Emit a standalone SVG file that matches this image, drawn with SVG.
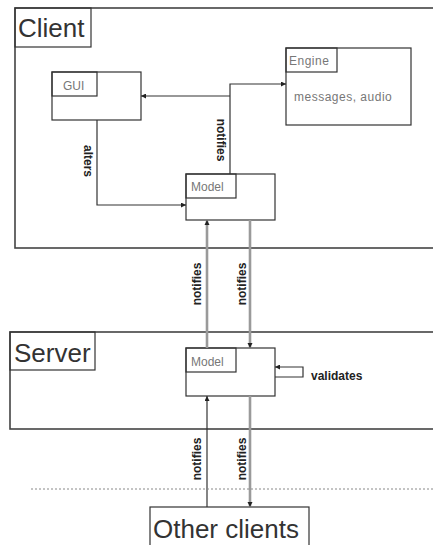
<svg xmlns="http://www.w3.org/2000/svg" width="433" height="545" viewBox="0 0 433 545">
<style>
.frame{fill:none;stroke:#444;stroke-width:1.6}
.box{fill:#fff;stroke:#333;stroke-width:1.2}
.tab{fill:none;stroke:#333;stroke-width:1.2}
.big{font-family:"Liberation Sans",Arial,sans-serif;font-size:26px;fill:#333}
.small{font-family:"Liberation Sans",Arial,sans-serif;font-size:12px;fill:#777}
.lbl{font-family:"Liberation Sans",Arial,sans-serif;font-size:12px;font-weight:bold;fill:#222}
.c{fill:none;stroke:#333;stroke-width:1.2}
.g{fill:none;stroke:#9a9a9a;stroke-width:2.6}
</style>
<defs>
<marker id="ah" viewBox="0 0 10 10" refX="10" refY="5" markerWidth="5" markerHeight="5" orient="auto" markerUnits="userSpaceOnUse">
<path d="M0,0 L10,5 L0,10 z" fill="#222"/>
</marker>
</defs>
<g id="client">
<rect class="frame" x="15" y="8" width="430" height="240"/>
<rect class="tab" x="15" y="8" width="76" height="39"/>
<text class="big" x="18" y="37">Client</text>
</g>
<g id="server">
<rect class="frame" x="10" y="332" width="435" height="97"/>
<rect class="tab" x="10" y="332" width="85" height="38"/>
<text class="big" x="14" y="362">Server</text>
</g>
<g id="engine">
<rect class="box" x="286" y="48" width="125" height="77"/>
<rect class="tab" x="286" y="48" width="51" height="24"/>
<text class="small" x="289" y="65" letter-spacing="0.5">Engine</text>
<text class="small" x="294" y="101" font-size="13" fill="#555" letter-spacing="0.5">messages, audio</text>
</g>
<g id="gui">
<rect class="box" x="52" y="72" width="89" height="48"/>
<rect class="tab" x="52" y="72" width="45" height="24"/>
<text class="small" x="63" y="90" font-size="13">GUI</text>
</g>
<g id="client-model">
<rect class="box" x="186" y="174" width="89" height="46"/>
<rect class="tab" x="186" y="174" width="50" height="24"/>
<text class="small" x="191" y="191" font-size="13">Model</text>
</g>
<g id="server-model">
<rect class="box" x="186" y="348" width="89" height="48"/>
<rect class="tab" x="186" y="348" width="50" height="24"/>
<text class="small" x="191" y="366" font-size="13">Model</text>
</g>
<g id="other-clients">
<rect class="box" x="150" y="507" width="159" height="45"/>
<text class="big" x="153" y="538">Other clients</text>
</g>
<g id="connectors">
<polyline class="c" points="97,120 97,205 186,205" marker-end="url(#ah)"/>
<polyline class="c" points="230,174 230,84 286,84" marker-end="url(#ah)"/>
<polyline class="c" points="230,96 141,96" marker-end="url(#ah)"/>
<line class="g" x1="207" y1="348" x2="207" y2="221"/>
<line class="g" x1="250" y1="220" x2="250" y2="347"/>
<path d="M207,220 l-2.5,5 h5 z" fill="#222"/>
<path d="M250,348 l-2.5,-5 h5 z" fill="#222"/>
<polyline class="c" points="275,377 303,377 303,367 275,367" marker-end="url(#ah)"/>
<polyline class="c" points="207,507 207,396" marker-end="url(#ah)"/>
<line class="g" x1="250" y1="396" x2="250" y2="506"/>
<path d="M250,507 l-2.5,-5 h5 z" fill="#222"/>
<line x1="31" y1="489" x2="433" y2="489" stroke="#888" stroke-width="1" stroke-dasharray="2,2"/>
<text class="lbl" transform="translate(88,161) rotate(90)" text-anchor="middle" dominant-baseline="central">alters</text>
<text class="lbl" transform="translate(221,140) rotate(90)" text-anchor="middle" dominant-baseline="central">notifies</text>
<text class="lbl" transform="translate(197,284) rotate(-90)" text-anchor="middle" dominant-baseline="central">notifies</text>
<text class="lbl" transform="translate(242,284) rotate(-90)" text-anchor="middle" dominant-baseline="central">notifies</text>
<text class="lbl" transform="translate(197,459) rotate(-90)" text-anchor="middle" dominant-baseline="central">notifies</text>
<text class="lbl" transform="translate(242,459) rotate(-90)" text-anchor="middle" dominant-baseline="central">notifies</text>
<text class="lbl" x="311" y="380" font-size="11.5">validates</text>
</g>
</svg>
